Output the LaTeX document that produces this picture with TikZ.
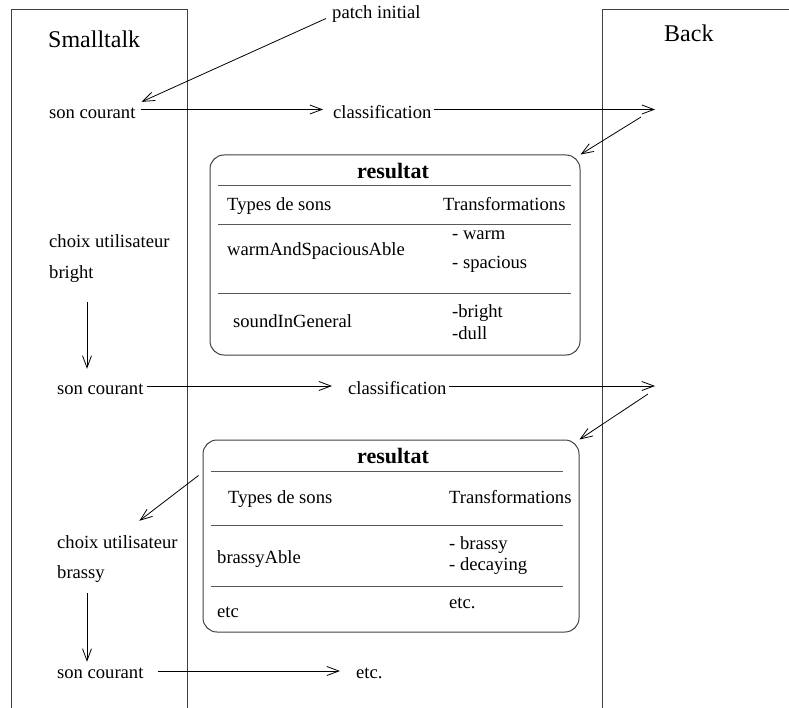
\documentclass[tikz,border=0pt]{standalone}
\usepackage{fontspec}
\setmainfont{Liberation Serif}
\usetikzlibrary{arrows.meta}
\begin{document}
\begin{tikzpicture}[x=1pt,y=-1pt,
  lbl/.style={font=\fontsize{18.6}{22}\selectfont, inner sep=0pt, anchor=base west, text height=13pt, text depth=4pt},
  big/.style={font=\fontsize{24}{28}\selectfont, inner sep=0pt, anchor=base west},
  ttl/.style={font=\fontsize{22}{26}\selectfont\bfseries, inner sep=0pt, anchor=base},
  frame/.style={draw=black!75, line width=1pt},
  res/.style={draw=black!75, line width=1pt, rounded corners=14pt, inner sep=0pt},
  sepline/.style={draw=black!65, line width=1pt},
  arr/.style={draw=black, line width=0.8pt, -{Straight Barb[length=12pt,width=9pt]}}
]
\useasboundingbox (0,0) rectangle (789,708);
% frames
\draw[frame] (11,708) -- (11,10) -- (187,10) -- (187,708);
\draw[frame] (789,10) -- (602,10) -- (602,708);
\node[big] (st) at (48,48) {Smalltalk};
\node[big] (bk) at (664,42) {Back};
% result boxes
\node[res, minimum width=370pt, minimum height=200pt] (box1) at (395,255) {};
\node[res, minimum width=376pt, minimum height=192pt] (box2) at (391,536) {};
% box1 content
\draw[sepline] (218,186) -- (571,186);
\draw[sepline] (218,225) -- (571,225);
\draw[sepline] (218,294) -- (571,294);
\node[ttl] (r1) at (393,179) {resultat};
\node[lbl] (t1a) at (227,211) {Types de sons};
\node[lbl] (t1b) at (443,211) {Transformations};
\node[lbl] (w1) at (227,256) {warmAndSpaciousAble};
\node[lbl] (w2) at (452,240) {- warm};
\node[lbl] (w3) at (452,269) {- spacious};
\node[lbl] (s1) at (233,327) {soundInGeneral};
\node[lbl] (s2) at (452,317) {-bright};
\node[lbl] (s3) at (452,339) {-dull};
% box2 content
\draw[sepline] (211,471) -- (563,471);
\draw[sepline] (211,525) -- (563,525);
\draw[sepline] (211,586) -- (563,586);
\node[ttl] (r2) at (393,463) {resultat};
\node[lbl] (t2a) at (228,503) {Types de sons};
\node[lbl] (t2b) at (449,503) {Transformations};
\node[lbl] (b1) at (217,563) {brassyAble};
\node[lbl] (b2) at (449,549) {- brassy};
\node[lbl] (b3) at (449,570) {- decaying};
\node[lbl] (e1) at (217,617) {etc};
\node[lbl] (e2) at (449,608) {etc.};
% flow texts
\node[lbl] (pi) at (332,19) {patch initial};
\node[lbl] (sc1) at (49,119) {son courant};
\node[lbl] (cl1) at (333,119) {classification};
\node[lbl] (ch1) at (49,248) {choix utilisateur};
\node[lbl] (bright) at (49,279) {bright};
\node[lbl] (sc2) at (57,394) {son courant};
\node[lbl] (cl2) at (348,394) {classification};
\node[lbl] (ch2) at (57,548) {choix utilisateur};
\node[lbl] (brassy) at (57,578) {brassy};
\node[lbl] (sc3) at (57,678) {son courant};
\node[lbl] (etc3) at (356,678) {etc.};
% free ends
\coordinate (bk1) at (655,109.5);
\coordinate (bk1b) at (641,117);
\coordinate (bk2) at (655,386);
\coordinate (bk2b) at (648,394);
\coordinate (xa) at (87,0);
% arrows
\draw[arr] ([xshift=-6pt,yshift=-4pt]pi.west) -- ([xshift=6pt,yshift=4pt]sc1.north east);
\draw[arr] ([xshift=5pt,yshift=5pt]sc1.east) -- ([xshift=-10pt,yshift=5pt]cl1.west);
\draw[arr] ([xshift=2pt,yshift=5pt]cl1.east) -- (bk1);
\draw[arr] (bk1b) -- (box1.north east);
\draw[arr, shorten <=19pt, shorten >=12pt] (bright.south -| xa) -- (sc2.north -| xa);
\draw[arr] ([xshift=3pt,yshift=3.5pt]sc2.east) -- ([xshift=-16pt,yshift=3.5pt]cl2.west);
\draw[arr] ([xshift=2pt,yshift=3.5pt]cl2.east) -- (bk2);
\draw[arr] (bk2b) -- (box2.north east);
\draw[arr] ([xshift=-4pt,yshift=-36pt]box2.north west) -- ([xshift=22pt,yshift=14pt]ch2.north);
\draw[arr, shorten <=11pt, shorten >=3pt] (brassy.south -| xa) -- (sc3.north -| xa);
\draw[arr] ([xshift=14pt,yshift=2.5pt]sc3.east) -- ([xshift=-16pt,yshift=2.5pt]etc3.west);
\end{tikzpicture}
\end{document}
